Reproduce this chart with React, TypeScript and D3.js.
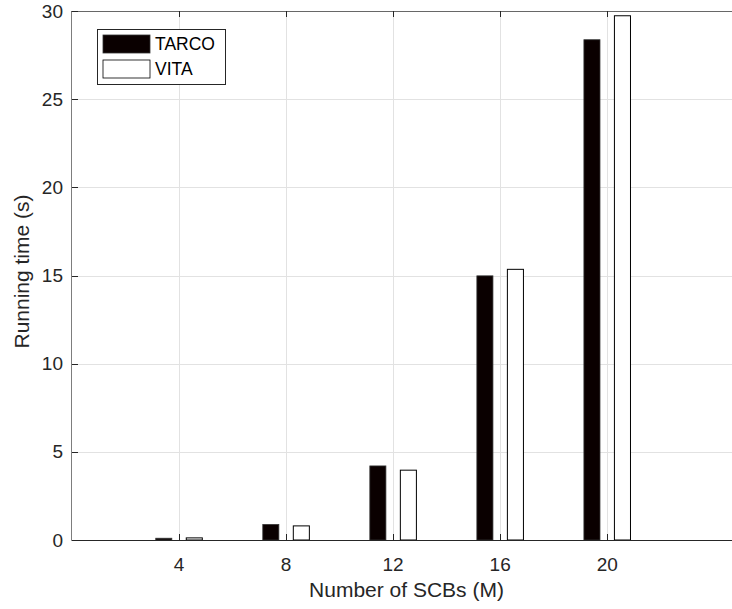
import React from 'react'
import { scaleLinear, range } from 'd3'

const categories = [4, 8, 12, 16, 20]
const tarco = [0.1, 0.88, 4.2, 14.98, 28.37]
const vita = [0.12, 0.8, 3.96, 15.35, 29.73]
const yTicks = [0, 5, 10, 15, 20, 25, 30]
const seriesNames = ['TARCO', 'VITA']

const width = 732
const height = 609
const margin = { top: 11, right: -9, bottom: 69, left: 72 }
const font = 'Liberation Sans, Arial, Helvetica, sans-serif'

const App = () => {
  const x = scaleLinear().domain([0, 25]).range([margin.left, width - margin.right])
  const y = scaleLinear().domain([0, 30]).range([height - margin.bottom, margin.top])
  const x0 = x(0)
  const y0 = y(0)
  const yTop = y(30)
  const barW = x(0.6) - x(0)
  const off = 0.57
  const plotCx = (x(0) + x(25)) / 2
  const plotCy = (y(0) + y(30)) / 2

  return (
    <svg width={width} height={height} style={{ position: 'absolute', left: 0, top: 0, display: 'block', background: '#fff' }}>
      {/* grid */}
      <g stroke="#e2e2e2" strokeWidth={1}>
        {categories.map(c => (
          <line key={'gx' + c} x1={Math.round(x(c)) + 0.5} x2={Math.round(x(c)) + 0.5} y1={yTop} y2={y0} />
        ))}
        {yTicks.filter(t => t > 0 && t < 30).map(t => (
          <line key={'gy' + t} x1={x0} x2={width} y1={Math.round(y(t)) + 0.5} y2={Math.round(y(t)) + 0.5} />
        ))}
      </g>

      {/* bars */}
      {categories.map((c, i) => (
        <g key={'b' + c}>
          <rect x={x(c - off) - barW / 2} y={y(tarco[i])} width={barW} height={y0 - y(tarco[i])}
            fill="#0a0000" stroke="#333" strokeWidth={0.8} />
          <rect x={x(c + off) - barW / 2} y={y(vita[i])} width={barW} height={y0 - y(vita[i])}
            fill="#fff" stroke="#000" strokeWidth={1} />
        </g>
      ))}

      {/* axes */}
      <g stroke="#262626" strokeWidth={1} fill="none">
        <line x1={x0 - 0.5} x2={width} y1={Math.round(y0) + 0.5} y2={Math.round(y0) + 0.5} />
        <line x1={x0 - 0.5} x2={width} y1={Math.round(yTop) + 0.5} y2={Math.round(yTop) + 0.5} strokeOpacity={0.7} />
        <line x1={Math.round(x0) - 0.5} x2={Math.round(x0) - 0.5} y1={yTop} y2={y0} strokeOpacity={0.6} />
        {categories.map(c => (
          <g key={'tx' + c}>
            <line x1={Math.round(x(c)) + 0.5} x2={Math.round(x(c)) + 0.5} y1={y0} y2={y0 - 6} />
            <line x1={Math.round(x(c)) + 0.5} x2={Math.round(x(c)) + 0.5} y1={yTop} y2={yTop + 6} />
          </g>
        ))}
        {yTicks.map(t => (
          <line key={'ty' + t} x1={x0} x2={x0 + 6} y1={Math.round(y(t)) + 0.5} y2={Math.round(y(t)) + 0.5} />
        ))}
      </g>

      {/* tick labels */}
      <g fontFamily={font} fontSize={19} fill="#262626">
        {categories.map(c => (
          <text key={'lx' + c} x={x(c)} y={y0 + 31} textAnchor="middle">{c}</text>
        ))}
        {yTicks.map(t => (
          <text key={'ly' + t} x={x0 - 9} y={y(t)} dy="0.35em" textAnchor="end">{t}</text>
        ))}
      </g>

      {/* axis labels */}
      <text x={plotCx} y={597} textAnchor="middle" fontFamily={font} fontSize={21} fill="#262626">
        Number of SCBs (M)
      </text>
      <text transform={`translate(29,${plotCy - 4}) rotate(-90)`} textAnchor="middle" fontFamily={font} fontSize={21} fill="#262626">
        Running time (s)
      </text>

      {/* legend */}
      <g>
        <rect x={97.5} y={29.5} width={128} height={55} fill="#fff" stroke="#262626" strokeWidth={1} />
        {seriesNames.map((name, i) => (
          <g key={name} transform={`translate(0,${i * 25})`}>
            <rect x={103} y={35} width={47} height={18} fill={i === 0 ? '#0a0000' : '#fff'}
              stroke={i === 0 ? '#333' : '#000'} strokeWidth={0.8} />
            <text x={155} y={44} dy="0.35em" fontFamily={font} fontSize={17.5} fill="#000">{name}</text>
          </g>
        ))}
      </g>
    </svg>
  )
}

export default App
